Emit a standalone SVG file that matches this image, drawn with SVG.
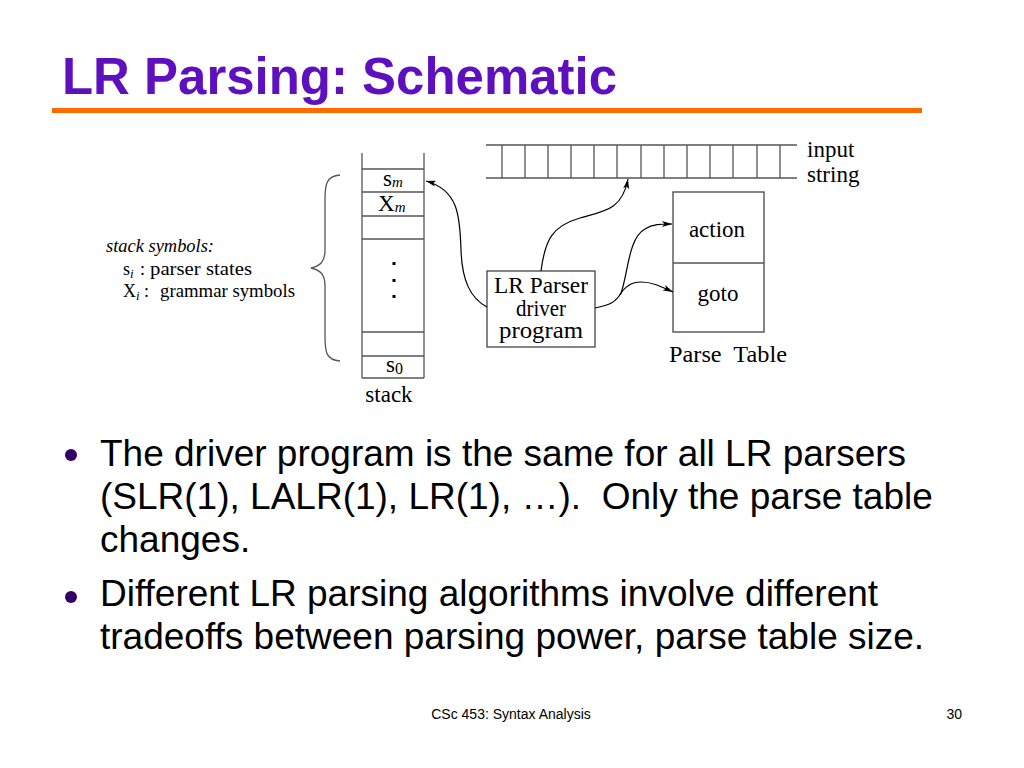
<svg xmlns="http://www.w3.org/2000/svg" width="1024" height="768" viewBox="0 0 1024 768">
<style>
.ttl{font-family:"Liberation Sans",Arial,sans-serif;font-weight:bold;font-size:52px;fill:#5F10BE}
.blt{font-family:"Liberation Sans",Arial,sans-serif;font-size:37px;fill:#000;white-space:pre}
.ftr{font-family:"Liberation Sans",Arial,sans-serif;font-size:14px;fill:#000}
.sf{font-family:"Liberation Serif","Times New Roman",serif;font-size:23px;fill:#000;white-space:pre}
.lg{font-family:"Liberation Serif","Times New Roman",serif;font-size:18px;fill:#000}
.box{fill:none;stroke:#444;stroke-width:1.3}
.ln{stroke:#555;stroke-width:1.3;fill:none}
.con{fill:none;stroke:#000;stroke-width:1.2;marker-end:url(#ah)}
</style>
<defs>
<marker id="ah" viewBox="0 0 10 6" refX="10" refY="3" markerWidth="10" markerHeight="6" markerUnits="userSpaceOnUse" orient="auto">
<path d="M0,0 L10,3 L0,6 L2.5,3 Z" fill="#000"/>
</marker>
</defs>
<rect width="1024" height="768" fill="#fff"/>
<text class="ttl" x="62" y="94" textLength="555" lengthAdjust="spacingAndGlyphs">LR Parsing: Schematic</text>
<rect x="52" y="108" width="870" height="5" fill="#FF6A00"/>

<g id="legend">
<text class="lg" x="106" y="252" font-style="italic" textLength="108" lengthAdjust="spacingAndGlyphs">stack symbols:</text>
<text class="lg" x="123" y="275">s<tspan font-style="italic" font-size="13" dy="3">i</tspan></text>
<text class="lg" x="140" y="275">:</text>
<text class="lg" x="150" y="275" textLength="102" lengthAdjust="spacingAndGlyphs">parser states</text>
<text class="lg" x="123" y="297">X<tspan font-style="italic" font-size="13" dy="3">i</tspan></text>
<text class="lg" x="144" y="297">:</text>
<text class="lg" x="160" y="297" textLength="135" lengthAdjust="spacingAndGlyphs">grammar symbols</text>
</g>

<g id="brace">
<path class="ln" stroke-width="1" d="M340,175 C326,176 325,185 325,200 L325,250 C325,262 320,266 311,268 C320,270 325,274 325,286 L325,336 C325,352 326,360 340,361"/>
</g>

<g id="stack">
<line class="ln" x1="362" y1="153" x2="362" y2="378"/>
<line class="ln" x1="424" y1="153" x2="424" y2="378"/>
<line class="ln" x1="362" y1="169" x2="424" y2="169"/>
<line class="ln" x1="362" y1="192" x2="424" y2="192"/>
<line class="ln" x1="362" y1="216" x2="424" y2="216"/>
<line class="ln" x1="362" y1="239" x2="424" y2="239"/>
<line class="ln" x1="362" y1="332" x2="424" y2="332"/>
<line class="ln" x1="362" y1="356" x2="424" y2="356"/>
<line class="ln" x1="362" y1="378" x2="424" y2="378"/>
<text class="sf" x="383" y="186">s<tspan font-style="italic" font-size="15" dy="1">m</tspan></text>
<text class="sf" x="378" y="211">X<tspan font-style="italic" font-size="15" dy="1">m</tspan></text>
<rect x="392.5" y="262" width="3" height="3" fill="#000"/>
<rect x="392.5" y="279" width="3" height="3" fill="#000"/>
<rect x="392.5" y="295" width="3" height="3" fill="#000"/>
<text class="sf" x="386" y="372">s<tspan font-size="16" dy="2">0</tspan></text>
<text class="sf" x="389" y="402" text-anchor="middle">stack</text>
</g>

<g id="input">
<line class="ln" x1="486" y1="145" x2="797" y2="145"/>
<line class="ln" x1="486" y1="178" x2="797" y2="178"/>
<path class="ln" d="M502,145V178M525,145V178M548,145V178M571,145V178M594,145V178M617,145V178M641,145V178M664,145V178M687,145V178M710,145V178M733,145V178M757,145V178M780,145V178"/>
<text class="sf" x="807" y="157">input</text>
<text class="sf" x="807" y="182">string</text>
</g>

<g id="table">
<rect class="box" x="673" y="192" width="91" height="140"/>
<line class="ln" x1="673" y1="263" x2="764" y2="263"/>
<text class="sf" x="717" y="237" text-anchor="middle">action</text>
<text class="sf" x="718" y="301" text-anchor="middle">goto</text>
<text class="sf" x="669" y="362" textLength="118" lengthAdjust="spacingAndGlyphs">Parse  Table</text>
</g>

<g id="driver">
<rect class="box" x="487" y="271" width="108" height="76"/>
<text class="sf" x="541" y="293" text-anchor="middle" font-size="20" textLength="94" lengthAdjust="spacingAndGlyphs">LR Parser</text>
<text class="sf" x="541" y="316" text-anchor="middle" font-size="20" textLength="50" lengthAdjust="spacingAndGlyphs">driver</text>
<text class="sf" x="541" y="338" text-anchor="middle" font-size="20" textLength="84" lengthAdjust="spacingAndGlyphs">program</text>
</g>

<g id="connectors">
<path class="con" d="M487,307 C470,298 462,280 461,250 C460,215 458,190 426,181"/>
<path class="con" d="M541,271 C545,240 552,226 580,218 C605,211 622,210 628,179"/>
<path class="con" d="M595,308 C610,305 616,302 621,293 C628,275 628,238 645,229 C653,224 660,224 672,224"/>
<path class="con" d="M620,295 C625,286 632,282 641,282 C652,282 660,286 673,292"/>
</g>

<g id="bullets">
<circle cx="71" cy="455" r="6" fill="#330066"/>
<circle cx="71" cy="597" r="6" fill="#330066"/>
<text class="blt" x="100" y="466">The driver program is the same for all LR parsers</text>
<text class="blt" x="100" y="509">(SLR(1), LALR(1), LR(1), …).  Only the parse table</text>
<text class="blt" x="100" y="552">changes.</text>
<text class="blt" x="100" y="606">Different LR parsing algorithms involve different</text>
<text class="blt" x="100" y="649">tradeoffs between parsing power, parse table size.</text>
</g>

<text class="ftr" x="511" y="719" text-anchor="middle">CSc 453: Syntax Analysis</text>
<text class="ftr" x="962" y="719" text-anchor="end">30</text>
</svg>
